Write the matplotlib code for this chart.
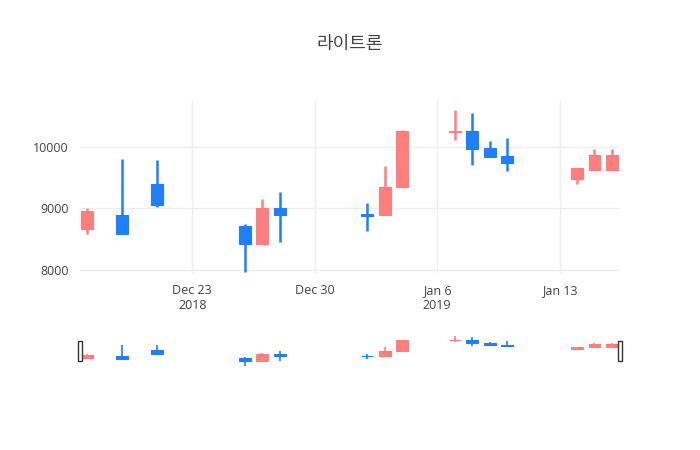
import matplotlib
matplotlib.use("Agg")
import matplotlib.pyplot as plt
import matplotlib.dates as mdates
import numpy as np
import datetime as dt

plt.rcParams['font.family'] = ['Open Sans', 'Noto Sans CJK KR', 'DejaVu Sans']

dates = ["2018-12-17","2018-12-19","2018-12-21","2018-12-26","2018-12-27","2018-12-28",
         "2019-01-02","2019-01-03","2019-01-04","2019-01-07","2019-01-08","2019-01-09",
         "2019-01-10","2019-01-14","2019-01-15","2019-01-16"]
opens  = [8660, 8900, 9400, 8710, 8420, 9000, 8910, 8890, 9340, 10250, 10260, 9980, 9850, 9480, 9630, 9630]
highs  = [9000, 9800, 9790, 8740, 9150, 9270, 9080, 9690, 10270, 10600, 10550, 10100, 10150, 9660, 9970, 9970]
lows   = [8580, 8580, 9030, 7970, 8420, 8450, 8630, 8890, 9340, 10110, 9710, 9840, 9610, 9400, 9630, 9630]
closes = [8950, 8580, 9060, 8420, 9000, 8890, 8890, 9340, 10260, 10270, 9970, 9840, 9730, 9650, 9870, 9870]

UP = "#FF7F7F"
DOWN = "#1F7FFF"

x = mdates.date2num([dt.datetime.strptime(d, "%Y-%m-%d") for d in dates])
o, h, l, c = map(np.array, (opens, highs, lows, closes))
cols = [UP if cc >= oo else DOWN for oo, cc in zip(o, c)]

fig = plt.figure(figsize=(7, 4.5), dpi=100)
W, H = 700, 450
ax = fig.add_axes([80/W, (H-273)/H, 540/W, 173/H])
sl = fig.add_axes([80/W, (H-367)/H, 540/W, 32/H])

def draw(a, lw, minh):
    for xi, oo, hh, ll, cc, col in zip(x, o, h, l, c, cols):
        a.vlines(xi, ll, hh, color=col, lw=lw, zorder=3)
        bot = min(oo, cc); ht = max(abs(cc-oo), minh)
        a.bar(xi, ht, bottom=bot - (minh/2 if abs(cc-oo) < minh else 0),
              width=0.68, color=col, edgecolor=col, lw=0.8, zorder=3)

draw(ax, 1.8, 25)
draw(sl, 1.2, 25)

x0 = mdates.date2num(dt.datetime(2018, 12, 16, 14))
x1 = mdates.date2num(dt.datetime(2019, 1, 16, 11))
for a in (ax, sl):
    a.set_xlim(x0, x1)
    for s in a.spines.values():
        s.set_visible(False)
ax.set_ylim(7950, 10760)
sl.set_ylim(7900, 10700)

ax.set_yticks([8000, 9000, 10000])
ax.set_yticklabels(["8000", "9000", "10000"])
ticks = mdates.date2num([dt.datetime(2018,12,23), dt.datetime(2018,12,30), dt.datetime(2019,1,6), dt.datetime(2019,1,13)])
ax.set_xticks(ticks)
ax.set_xticklabels(["Dec 23\n2018", "Dec 30", "Jan 6\n2019", "Jan 13"])
ax.tick_params(length=0, labelsize=9, colors="#444", pad=8)
ax.grid(True, color="#eeeeee", lw=1, zorder=0)
ax.set_axisbelow(True)
sl.set_xticks([]); sl.set_yticks([])
sl.patch.set_alpha(0)
# range slider handles
for xx in (x0, x1):
    sl.add_patch(plt.Rectangle((xx - 0.12, 7900 + 0.2*2800), 0.24, 0.6*2800, facecolor="white",
                               edgecolor="#333", lw=1, clip_on=False, zorder=5))
fig.text(0.5, 1 - 44/H, "라이트론", ha="center", va="center", fontsize=13, color="#444")
fig.savefig("out.png", dpi=100)
